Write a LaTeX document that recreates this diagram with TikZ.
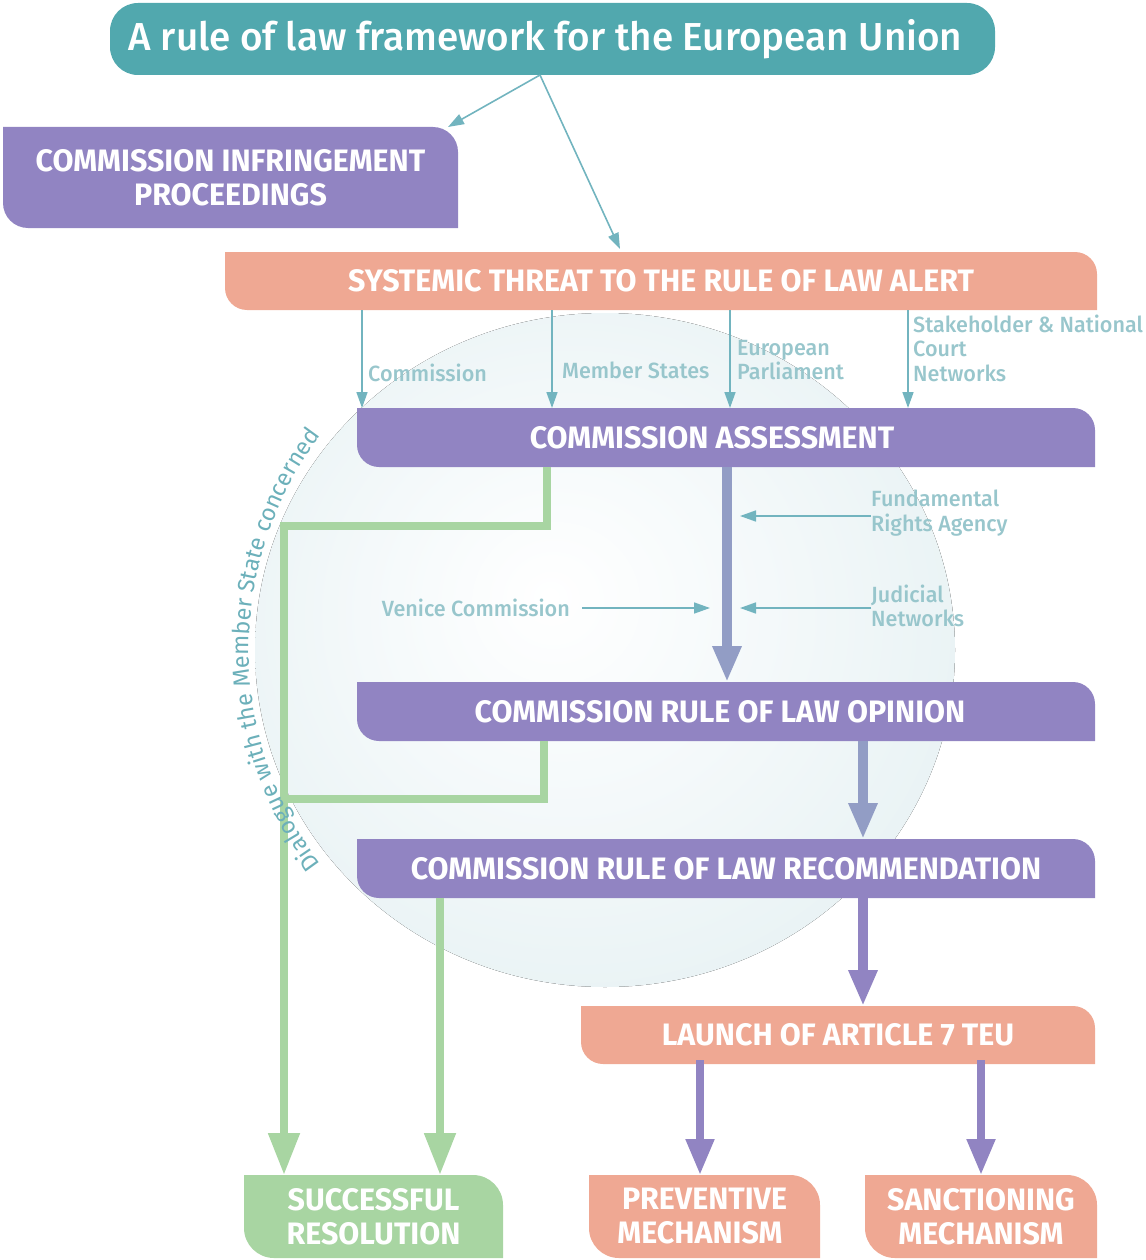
\documentclass[tikz,border=0pt]{standalone}
\usepackage{fontspec}
\setmainfont{Fira Sans}
\newfontfamily\titlefont[FakeStretch=0.99]{Fira Sans Medium}
\newfontfamily\boxfont[FakeStretch=0.98]{Fira Sans}
\newfontfamily\lblfont[FakeStretch=0.98]{Fira Sans Medium}
\newfontfamily\dialfont{Fira Sans}
\usetikzlibrary{arrows.meta,decorations.text}
\definecolor{cteal}{HTML}{51A8AE}
\definecolor{cpurple}{HTML}{9184C2}
\definecolor{csalmon}{HTML}{EFA893}
\definecolor{cgreen}{HTML}{A8D5A2}
\definecolor{carrow}{HTML}{72B4BF}
\definecolor{cdial}{HTML}{6CB0BA}
\definecolor{clabel}{HTML}{98C6CC}
\definecolor{cblue}{HTML}{929DC5}
\definecolor{ccirc}{HTML}{D8E9EC}
\definecolor{cmid}{HTML}{F6FAFB}
\pgfdeclareradialshading{sphere}{\pgfpoint{-4bp}{4bp}}{color(0bp)=(white); color(12bp)=(cmid); color(50bp)=(ccirc)}
\tikzset{
  boxt/.style={text=white, font=\boxfont\bfseries\fontsize{31}{34}\selectfont, align=center, inner sep=0pt, outer sep=0pt},
  leaf/.style 2 args={path picture={\fill[#1] (path picture bounding box.north west) -- ([xshift=-#2]path picture bounding box.north east) arc[start angle=90,end angle=0,radius=#2] -- (path picture bounding box.south east) -- ([xshift=#2]path picture bounding box.south west) arc[start angle=270,end angle=180,radius=#2] -- cycle;}},
  lbl/.style={text=clabel, font=\lblfont\fontsize{22}{24.5}\selectfont, align=left, inner sep=0pt},
  thinarr/.style={draw=carrow, line width=1.6pt, -{Triangle[length=16pt,width=11pt]}},
  thickarr/.style={draw=#1, line width=10pt, -{Triangle[length=36pt,width=27pt]}},
  grn/.style={draw=cgreen, line width=8pt, line join=miter},
  grnarr/.style={grn, -{Triangle[length=42pt,width=30pt]}},
}
\begin{document}
\begin{tikzpicture}[x=1pt,y=-1pt]
\useasboundingbox (0,0) rectangle (1145,1260);
% sphere
\fill[shading=sphere] (605,650) ellipse [x radius=350, y radius=337];

% boxes
\node[fill=cteal, rounded corners=28pt, minimum width=885, minimum height=72, text=white, font=\titlefont\fontsize{39}{44}\selectfont, inner sep=0pt] (title) at (552.5,39) {A rule of law framework for the European Union\hspace*{14pt}};
\node[boxt, leaf={cpurple}{25pt}, minimum width=455, minimum height=101] (infr) at (230.5,177.5) {COMMISSION INFRINGEMENT\\PROCEEDINGS};
\node[boxt, leaf={csalmon}{22pt}, minimum width=872, minimum height=58] (alert) at (661,281) {SYSTEMIC THREAT TO THE RULE OF LAW ALERT};
\node[boxt, leaf={cpurple}{22pt}, minimum width=738, minimum height=59] (assess) at (726,437.5) {COMMISSION ASSESSMENT\hspace*{28pt}};
\node[boxt, leaf={cpurple}{22pt}, minimum width=738, minimum height=59] (opinion) at (726,711.5) {COMMISSION RULE OF LAW OPINION\hspace*{12pt}};
\node[boxt, leaf={cpurple}{22pt}, minimum width=738, minimum height=59] (recomm) at (726,868.5) {COMMISSION RULE OF LAW RECOMMENDATION};
\node[boxt, leaf={csalmon}{22pt}, minimum width=514, minimum height=58] (launch) at (838,1035) {LAUNCH OF ARTICLE 7 TEU};
\node[boxt, leaf={cgreen}{30pt}, minimum width=259, minimum height=83] (success) at (373.5,1216.5) {SUCCESSFUL\\RESOLUTION};
\node[boxt, leaf={csalmon}{30pt}, minimum width=231, minimum height=83] (prev) at (704.5,1216.5) {PREVENTIVE\\MECHANISM\hspace*{9pt}};
\node[boxt, leaf={csalmon}{30pt}, minimum width=232, minimum height=83] (sanct) at (981,1216.5) {SANCTIONING\\MECHANISM};

% top arrows
\coordinate (t0) at (540,75);
\draw[thinarr] (t0) -- ([xshift=-10pt]infr.north east);
\draw[thinarr] (t0) -- ([xshift=-41pt,yshift=3pt]alert.north);

% four input arrows
\foreach \xx in {362,552,730,908} \draw[thinarr] (\xx,0 |- alert.south) -- (\xx,0 |- assess.north);
\node[lbl, anchor=west] (lcom) at (368,373) {Commission};
\node[lbl, anchor=west] (lms) at (562,370) {Member States};
\node[lbl, anchor=west] (lep) at (737,360) {European\\Parliament};
\node[lbl, anchor=west] (lsh) at (913,348) {Stakeholder \& National\\Court\\Networks};

% assessment -> opinion
\draw[thickarr=cblue] (727,0 |- assess.south) -- (727,0 |- opinion.north);
\node[lbl, anchor=west] (fra) at (871,513) {Fundamental\\Rights Agency};
\node[lbl, anchor=west] (jud) at (871,606) {Judicial\\Networks};
\node[lbl, anchor=east] (ven) at (570,608) {Venice Commission};
\coordinate (fraend) at (740,516);
\coordinate (judend) at (740,608);
\coordinate (venend) at (710,608);
\draw[thinarr] (fra.west |- fraend) -- (fraend);
\draw[thinarr] (jud.west |- judend) -- (judend);
\draw[thinarr] ([xshift=12pt]ven.east |- venend) -- (venend);

% opinion -> recommendation -> launch
\draw[thickarr=cblue] (863,0 |- opinion.south) -- (863,0 |- recomm.north);
\draw[thickarr=cpurple] (863,0 |- recomm.south) -- (863,0 |- launch.north);
\draw[thickarr=cpurple, line width=8pt] ([yshift=4pt]700,0 |- launch.south) -- (700,0 |- prev.north);
\draw[thickarr=cpurple, line width=8pt] ([yshift=4pt]981,0 |- launch.south) -- (981,0 |- sanct.north);

% green dialogue lines
\draw[grnarr] (547,0 |- assess.south) -- (547,526) -- (284,526) -- (284,0 |- success.north);
\draw[grn] (544,0 |- opinion.south) |- (284,799);
\draw[grnarr] (440,0 |- recomm.south) -- (440,0 |- success.north);

% dialogue text along the sphere
\path[decorate, decoration={text along path, text align=center, text={|\dialfont\fontsize{23.5}{23.5}\selectfont\color{cdial}|Dialogue with the Member State concerned}}] (605,650) ++(140:356) arc[start angle=140, end angle=220, radius=356];
\end{tikzpicture}
\end{document}
